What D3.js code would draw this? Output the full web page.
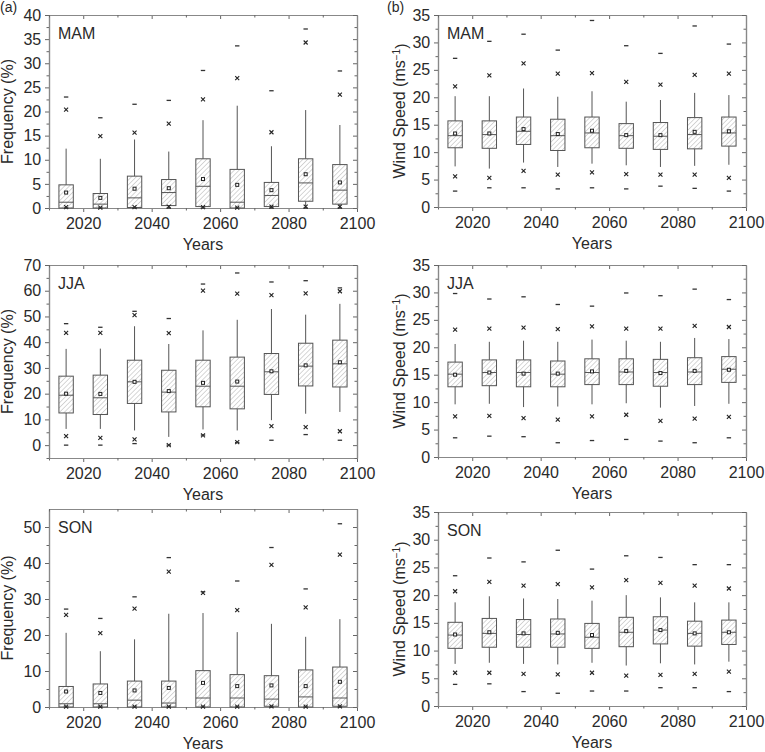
<!DOCTYPE html>
<html>
<head>
<meta charset="utf-8">
<script src="https://cdn.jsdelivr.net/npm/d3@7"></script>
<style>
  body { margin: 0; background: #fff; }
  svg { font-family: "Liberation Sans", Arial, sans-serif; }
</style>
</head>
<body>
<div id="wrapper"></div>
<script>
// Box centres (years)
const years = [2015, 2025, 2035, 2045, 2055, 2065, 2075, 2085, 2095]
const xTicksMajor = [2020, 2040, 2060, 2080, 2100]
const xTicksMinor = [2010, 2030, 2050, 2070, 2090]

// each row: [max, p99, whiskerHi, q3, mean, median, q1, whiskerLo, p1, min]
const mamFreq = [
    [23.0, 20.4, 12.3, 4.8, 3.2, 1.2, 0.0, 0.0, 0.2, 0.0],
    [18.7, 14.9, 10.2, 3.0, 2.1, 0.8, 0.0, 0.0, 0.1, 0.0],
    [21.5, 15.6, 14.2, 6.6, 4.0, 2.1, 0.1, 0.0, 0.2, 0.0],
    [22.3, 17.5, 11.7, 5.9, 4.1, 3.2, 0.5, 0.0, 0.3, 0.0],
    [28.5, 22.5, 18.2, 10.2, 6.0, 4.5, 0.3, 0.0, 0.2, 0.0],
    [33.6, 26.9, 21.2, 8.0, 4.8, 1.2, 0.0, 0.0, 0.1, 0.0],
    [24.3, 15.7, 12.8, 5.3, 3.7, 2.6, 0.3, 0.0, 0.3, 0.0],
    [37.1, 34.3, 20.3, 10.2, 7.0, 5.2, 1.4, 0.0, 0.3, 0.0],
    [28.4, 23.5, 17.2, 9.0, 5.3, 3.7, 0.8, 0.0, 0.3, 0.0]
]
const mamWind = [
    [27.1, 22.0, 20.2, 15.7, 13.4, 13.0, 10.8, 7.4, 5.6, 2.9],
    [30.2, 24.0, 20.2, 15.7, 13.4, 13.2, 10.7, 7.0, 5.3, 3.5],
    [31.5, 26.2, 21.6, 16.4, 14.2, 13.8, 11.4, 8.1, 6.6, 3.5],
    [28.6, 24.3, 20.1, 16.0, 13.3, 13.0, 10.3, 7.3, 5.9, 3.3],
    [34.0, 24.4, 21.1, 16.4, 13.9, 13.5, 10.8, 7.9, 6.3, 3.5],
    [29.4, 22.8, 19.2, 15.2, 13.1, 13.0, 10.7, 7.6, 6.0, 3.3],
    [28.0, 22.3, 19.5, 15.4, 13.1, 12.9, 10.5, 7.3, 5.9, 3.8],
    [33.0, 24.1, 20.8, 16.3, 13.7, 13.2, 10.6, 7.5, 5.9, 3.4],
    [29.7, 24.3, 20.4, 16.4, 13.8, 13.5, 11.1, 7.7, 5.3, 2.9]
]
const jjaFreq = [
    [47.2, 43.6, 37.4, 26.8, 20.0, 19.4, 12.5, 6.3, 3.5, 0.0],
    [45.8, 43.6, 37.5, 27.2, 19.9, 18.4, 11.9, 6.3, 2.8, 0.0],
    [52.0, 50.5, 46.2, 33.0, 24.6, 24.6, 16.2, 5.7, 2.2, 0.6],
    [49.2, 43.5, 39.3, 29.1, 21.0, 20.6, 12.9, 3.2, 0.0, 0.0],
    [62.6, 60.0, 44.6, 33.0, 24.2, 22.9, 14.9, 6.1, 3.8, 3.9],
    [66.9, 58.9, 48.7, 34.2, 24.7, 22.9, 14.1, 5.7, 1.2, 1.0],
    [63.4, 58.3, 52.9, 35.6, 28.7, 28.5, 19.7, 9.7, 7.4, 1.9],
    [63.9, 59.0, 50.7, 39.6, 31.0, 30.7, 23.0, 12.2, 7.0, 4.1],
    [61.1, 59.8, 54.9, 40.8, 32.2, 31.6, 22.6, 12.9, 5.4, 1.9]
]
const jjaWind = [
    [29.8, 23.2, 20.6, 17.3, 15.0, 15.1, 12.8, 9.6, 7.4, 3.5],
    [28.8, 23.4, 21.0, 17.7, 15.4, 15.4, 13.0, 9.7, 7.5, 3.8],
    [29.2, 23.6, 21.2, 17.7, 15.2, 15.4, 12.8, 9.1, 7.1, 3.7],
    [27.8, 23.3, 21.0, 17.5, 15.2, 15.1, 12.8, 9.2, 6.8, 2.6],
    [27.5, 23.8, 21.4, 17.9, 15.6, 15.4, 13.2, 9.6, 7.4, 3.0],
    [29.9, 23.4, 21.2, 17.9, 15.7, 15.5, 13.2, 9.8, 7.7, 3.2],
    [29.4, 23.4, 21.0, 17.8, 15.3, 15.4, 12.9, 9.0, 6.6, 2.9],
    [30.6, 23.9, 21.7, 18.1, 15.7, 15.5, 13.2, 9.3, 7.0, 2.6],
    [28.7, 23.7, 21.5, 18.3, 15.9, 16.0, 13.6, 9.7, 7.3, 3.5]
]
const sonFreq = [
    [27.2, 25.6, 20.6, 5.7, 4.3, 0.9, 0.0, 0.0, 0.1, 0.0],
    [24.6, 20.5, 15.5, 6.4, 3.9, 0.9, 0.0, 0.0, 0.1, 0.0],
    [30.6, 27.3, 18.8, 7.2, 4.6, 1.9, 0.0, 0.0, 0.1, 0.0],
    [41.5, 37.6, 25.9, 7.2, 5.3, 1.1, 0.0, 0.0, 0.1, 0.0],
    [32.0, 31.7, 26.1, 10.1, 6.7, 2.5, 0.0, 0.0, 0.1, 0.0],
    [35.0, 26.9, 20.8, 9.0, 5.8, 2.5, 0.0, 0.0, 0.1, 0.0],
    [44.3, 39.5, 23.1, 8.7, 6.0, 2.2, 0.2, 0.0, 0.2, 0.0],
    [32.8, 27.7, 19.5, 10.3, 5.8, 2.8, 0.0, 0.0, 0.1, 0.0],
    [50.9, 42.3, 24.4, 11.1, 7.0, 2.5, 0.2, 0.0, 0.2, 0.0]
]
const sonWind = [
    [23.5, 20.7, 18.7, 15.1, 12.9, 12.8, 10.4, 7.6, 6.0, 3.9],
    [26.7, 22.4, 19.8, 15.8, 13.3, 13.1, 10.6, 7.8, 6.0, 4.0],
    [26.0, 21.7, 19.4, 15.6, 13.1, 12.9, 10.6, 7.6, 5.8, 2.6],
    [28.1, 22.0, 19.3, 15.7, 13.2, 13.0, 10.6, 7.5, 5.7, 2.3],
    [24.7, 21.4, 19.0, 14.9, 12.8, 12.4, 10.4, 7.8, 6.0, 2.7],
    [27.1, 22.7, 20.0, 16.0, 13.5, 13.3, 10.7, 7.3, 5.5, 2.7],
    [26.8, 22.2, 19.6, 16.1, 13.7, 13.7, 11.2, 7.7, 5.6, 3.3],
    [25.5, 21.7, 18.7, 15.3, 13.1, 13.1, 10.8, 7.5, 5.8, 3.3],
    [25.5, 21.2, 18.7, 15.5, 13.3, 13.3, 11.1, 8.0, 6.2, 2.6]
]

// Panel layout
const panels = [
    { data: mamFreq, season: "MAM", col: 0, y: [15, 208], domain: [0, 40], step: 5, tag: "(a)" },
    { data: mamWind, season: "MAM", col: 1, y: [15, 207], domain: [0, 35], step: 5, tag: "(b)" },
    { data: jjaFreq, season: "JJA", col: 0, y: [265, 458], domain: [-5, 70], step: 10 },
    { data: jjaWind, season: "JJA", col: 1, y: [265, 457], domain: [0, 35], step: 5 },
    { data: sonFreq, season: "SON", col: 0, y: [509, 707], domain: [0, 55], step: 10 },
    { data: sonWind, season: "SON", col: 1, y: [512, 706], domain: [0, 35], step: 5 },
]
const cols = [[49, 357], [438, 746]]

const width = 765, height = 752
const ink = "#2a2a2a", lineCol = "#555", frameCol = "#888"
const fs = "16px"

const svg = d3.select("#wrapper").append("svg")
    .attr("width", width)
    .attr("height", height)

// hatch pattern
const defs = svg.append("defs")
defs.append("pattern")
    .attr("id", "hatch")
    .attr("patternUnits", "userSpaceOnUse")
    .attr("width", 3.4)
    .attr("height", 3.4)
    .attr("patternTransform", "rotate(45)")
  .append("line")
    .attr("x1", 0).attr("y1", 0)
    .attr("x2", 0).attr("y2", 3.4)
    .attr("stroke", "#7a7a7a")
    .attr("stroke-width", 0.6)

panels.forEach(p => {
    const xRange = cols[p.col]
    const xScale = d3.scaleLinear().domain([2010, 2100]).range(xRange)
    const yScale = d3.scaleLinear().domain(p.domain).range([p.y[1], p.y[0]])
    const g = svg.append("g")

    const top = p.domain[1]
    const yMajor = d3.range(0, top + 0.001, p.step)
    const yMinor = d3.range(p.domain[0] < 0 ? p.domain[0] : p.step / 2, top, p.step)
        .filter(v => !yMajor.includes(v))

    // axes: bottom & left outward, top & right inward
    const bottom = g.append("g")
        .attr("transform", `translate(0,${p.y[1]})`)
        .call(d3.axisBottom(xScale).tickValues(xTicksMajor).tickFormat(d3.format("d")).tickSize(4).tickSizeOuter(0))
    g.append("g")
        .attr("transform", `translate(0,${p.y[1]})`)
        .call(d3.axisBottom(xScale).tickValues(xTicksMinor).tickFormat("").tickSize(2.5).tickSizeOuter(0))
    const left = g.append("g")
        .attr("transform", `translate(${xRange[0]},0)`)
        .call(d3.axisLeft(yScale).tickValues(yMajor).tickFormat(d3.format("d")).tickSize(4).tickSizeOuter(0))
    g.append("g")
        .attr("transform", `translate(${xRange[0]},0)`)
        .call(d3.axisLeft(yScale).tickValues(yMinor).tickFormat("").tickSize(2.5).tickSizeOuter(0))
    g.append("g")
        .attr("transform", `translate(0,${p.y[0]})`)
        .call(d3.axisTop(xScale).tickValues(xTicksMajor).tickFormat("").tickSize(-4).tickSizeOuter(0))
    g.append("g")
        .attr("transform", `translate(0,${p.y[0]})`)
        .call(d3.axisTop(xScale).tickValues(xTicksMinor).tickFormat("").tickSize(-2.5).tickSizeOuter(0))
    g.append("g")
        .attr("transform", `translate(${xRange[1]},0)`)
        .call(d3.axisRight(yScale).tickValues(yMajor).tickFormat("").tickSize(-4).tickSizeOuter(0))
    g.append("g")
        .attr("transform", `translate(${xRange[1]},0)`)
        .call(d3.axisRight(yScale).tickValues(yMinor).tickFormat("").tickSize(-2.5).tickSizeOuter(0))

    g.selectAll(".domain").attr("stroke", frameCol).attr("stroke-width", 1.2)
    g.selectAll(".tick line").attr("stroke", "#666")
    g.selectAll(".tick text")
        .attr("fill", ink)
        .style("font-size", fs)
    bottom.selectAll(".tick text").attr("dy", "0.9em")
    left.selectAll(".tick text").attr("dx", "-0.05em")

    // boxes
    const bw = xScale(2012.1) - xScale(2010)
    const boxes = g.append("g")
    p.data.forEach((r, i) => {
        const [mx, p99, wHi, q3, mean, med, q1, wLo, p1, mn] = r
        const cx = xScale(years[i])
        const b = boxes.append("g")
        b.append("line")
            .attr("x1", cx).attr("x2", cx)
            .attr("y1", yScale(q3)).attr("y2", yScale(wHi))
            .attr("stroke", lineCol).attr("stroke-width", 1)
        b.append("line")
            .attr("x1", cx).attr("x2", cx)
            .attr("y1", yScale(q1)).attr("y2", yScale(wLo))
            .attr("stroke", lineCol).attr("stroke-width", 1)
        b.append("rect")
            .attr("x", cx - bw).attr("width", bw * 2)
            .attr("y", yScale(q3)).attr("height", Math.max(0, yScale(q1) - yScale(q3)))
            .attr("fill", "url(#hatch)")
            .attr("stroke", lineCol).attr("stroke-width", 1)
        b.append("line")
            .attr("x1", cx - bw).attr("x2", cx + bw)
            .attr("y1", yScale(med)).attr("y2", yScale(med))
            .attr("stroke", lineCol).attr("stroke-width", 1)
        // mean
        b.append("rect")
            .attr("x", cx - 1.5).attr("y", yScale(mean) - 1.5)
            .attr("width", 3).attr("height", 3)
            .attr("fill", "#fff").attr("stroke", "#222").attr("stroke-width", 1)
        // 1% / 99%
        ;[p99, p1].forEach(v => {
            b.append("path")
                .attr("d", `M${cx - 2},${yScale(v) - 2}L${cx + 2},${yScale(v) + 2}M${cx - 2},${yScale(v) + 2}L${cx + 2},${yScale(v) - 2}`)
                .attr("stroke", "#222").attr("stroke-width", 1.1)
        })
        // min / max
        ;[mx, mn].forEach(v => {
            b.append("line")
                .attr("x1", cx - 2.2).attr("x2", cx + 2.2)
                .attr("y1", yScale(v)).attr("y2", yScale(v))
                .attr("stroke", "#333").attr("stroke-width", 1.3)
        })
    })

    // season label
    g.append("text")
        .attr("x", xRange[0] + 9)
        .attr("y", p.y[0] + 24)
        .attr("fill", ink)
        .style("font-size", fs)
        .text(p.season)

    // axis titles
    g.append("text")
        .attr("x", (xRange[0] + xRange[1]) / 2)
        .attr("y", p.y[1] + 42)
        .attr("text-anchor", "middle")
        .attr("fill", ink)
        .style("font-size", fs)
        .text("Years")

    const yt = g.append("text")
        .attr("transform", `translate(${xRange[0] - (p.col === 0 ? 42 : 39)},${(p.y[0] + p.y[1]) / 2}) rotate(-90)`)
        .attr("text-anchor", "middle")
        .attr("dy", "0.35em")
        .attr("fill", ink)
        .style("font-size", fs)
    if (p.col === 0) {
        yt.text("Frequency (%)")
    } else {
        yt.text("Wind Speed (ms")
        yt.append("tspan").attr("dy", "-0.45em").style("font-size", "10px").text("−1")
        yt.append("tspan").attr("dy", "0.45em").text(")")
    }

    if (p.tag) {
        svg.append("text")
            .attr("x", xRange[0] - (p.col === 0 ? 49 : 51))
            .attr("y", 12)
            .attr("fill", ink)
            .style("font-size", "14px")
            .text(p.tag)
    }
})
</script>
</body>
</html>
